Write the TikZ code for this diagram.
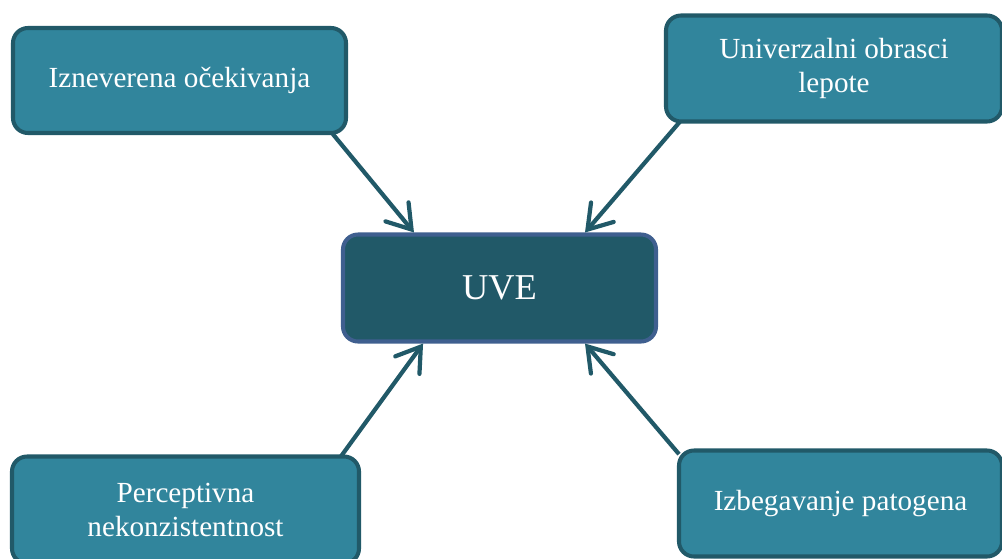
\documentclass[tikz,border=0pt]{standalone}
\usepackage{fontspec}
\setmainfont{Liberation Serif}
\usetikzlibrary{arrows.meta}

\definecolor{tealfill}{HTML}{31859C}
\definecolor{tealdark}{HTML}{215968}
\definecolor{uveedge}{HTML}{3F5F8F}

\begin{document}
\begin{tikzpicture}[align=center,
    factor/.style={draw=tealdark, fill=tealfill, line width=2.3pt, rounded corners=0.3cm,
      outer sep=0pt, text=white, font=\fontsize{16.6}{19.4}\selectfont, minimum height=2.12cm},
    pointer/.style={draw=tealdark, line width=2.4pt,
      -{Straight Barb[length=13pt, width=17pt, line cap=round]}}]
      \useasboundingbox (-9.99,-5.43) rectangle (10.05,5.73);

      % the central box
      \node[draw=uveedge, fill=tealdark, line width=2.3pt, rounded corners=0.3cm,
        text=white, font=\fontsize{20.7}{24}\selectfont,
        minimum width=6.26cm, minimum height=2.14cm] (UVE) at (0,-0.03) {UVE};

      \node[factor, minimum width=6.66cm, minimum height=2.1cm] (Izn) at (-6.4, 4.12) {Izneverena očekivanja};
      \node[factor, minimum width=6.72cm] (Univ) at (6.69, 4.36) {Univerzalni obrasci\\ lepote};
      \node[factor, minimum width=6.94cm, minimum height=2.14cm] (Perc) at (-6.28,-4.47) {Perceptivna\\ nekonzistentnost};
      \node[factor, minimum width=6.46cm] (Izb) at (6.82,-4.34) {Izbegavanje patogena};

      \draw[pointer] (Izn.-19.5) -- (UVE.147);
      \draw[pointer] (Univ.199.5) -- (UVE.33.6);
      \draw[pointer] (Perc.19) -- (UVE.216.7);
      \draw[pointer] (Izb.163.4) -- (UVE.-33);
    \end{tikzpicture}
\end{document}
